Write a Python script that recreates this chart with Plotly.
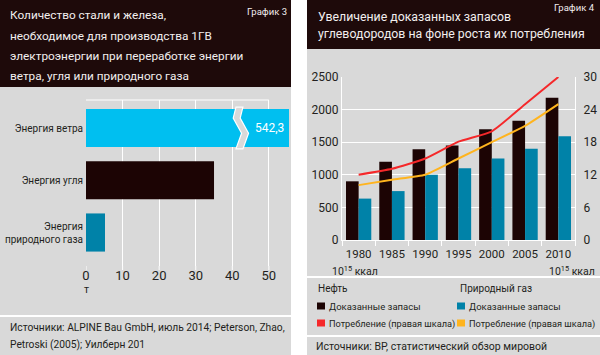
import plotly.graph_objects as go

# ---------------- data ----------------
# Chart 3: steel and iron needed per 1 GW (t)
energy_sources = ["Энергия ветра", "Энергия угля", "Энергия природного газа"]
energy_labels = ["Энергия ветра", "Энергия угля", "Энергия<br>природного газа"]
steel_tonnes = [542.3, 35.0, 5.2]
x_ticks_left = [0, 10, 20, 30, 40, 50]

# Chart 4: reserves and consumption
years = ["1980", "1985", "1990", "1995", "2000", "2005", "2010"]
oil_reserves = [900, 1200, 1390, 1450, 1700, 1830, 2180]
gas_reserves = [635, 750, 1000, 1100, 1250, 1400, 1590]
oil_consumption = [12.0, 13.1, 15.0, 18.1, 20.0, 25.0, 30.0]
gas_consumption = [10.1, 11.1, 12.0, 15.0, 18.0, 21.0, 25.0]

W, H = 600, 355
FONT = "Roboto, Liberation Sans, sans-serif"
DARK = "#1e0a0a"
GRAY = "#d9d9d9"
TXT = "#231f20"

C_WIND = "#00bff0"
C_COAL = "#1c0404"
C_GAS = "#0082a8"
C_RED = "#f5282a"
C_YEL = "#ffb41e"


def px(x):
    return x / W


def py(y):
    return 1 - y / H


fig = go.Figure()

# ---------- left chart ----------
fig.add_trace(go.Bar(
    y=energy_sources, x=steel_tonnes, orientation="h",
    marker=dict(color=[C_WIND, C_COAL, C_GAS], line=dict(width=0)),
    width=0.73, xaxis="x", yaxis="y", showlegend=False, hoverinfo="skip",
))

# ---------- right chart ----------
fig.add_trace(go.Bar(x=years, y=oil_reserves, marker=dict(color=C_COAL, line=dict(width=0)),
                     xaxis="x2", yaxis="y2", showlegend=False, hoverinfo="skip"))
fig.add_trace(go.Bar(x=years, y=gas_reserves, marker=dict(color=C_GAS, line=dict(width=0)),
                     xaxis="x2", yaxis="y2", showlegend=False, hoverinfo="skip"))
fig.add_trace(go.Scatter(x=years, y=oil_consumption, mode="lines",
                         line=dict(color=C_RED, width=2, shape="spline", smoothing=0.5),
                         xaxis="x2", yaxis="y3", showlegend=False, hoverinfo="skip"))
fig.add_trace(go.Scatter(x=years, y=gas_consumption, mode="lines",
                         line=dict(color=C_YEL, width=2, shape="spline", smoothing=0.5),
                         xaxis="x2", yaxis="y3", showlegend=False, hoverinfo="skip"))

shapes = []
# panels backgrounds
shapes.append(dict(type="rect", xref="paper", yref="paper", x0=px(0), x1=px(291), y0=py(355), y1=py(0),
                   fillcolor=GRAY, line=dict(width=0), layer="below"))
shapes.append(dict(type="rect", xref="paper", yref="paper", x0=px(0), x1=px(291), y0=py(87), y1=py(0),
                   fillcolor=DARK, line=dict(width=0), layer="below"))
shapes.append(dict(type="rect", xref="paper", yref="paper", x0=px(307), x1=px(600), y0=py(355), y1=py(0),
                   fillcolor=GRAY, line=dict(width=0), layer="below"))
shapes.append(dict(type="rect", xref="paper", yref="paper", x0=px(307), x1=px(600), y0=py(49), y1=py(0),
                   fillcolor=DARK, line=dict(width=0), layer="below"))
# separators
for (x0, x1, y) in [(0, 291, 316), (307, 600, 277), (307, 600, 336)]:
    shapes.append(dict(type="line", xref="paper", yref="paper", x0=px(x0), x1=px(x1), y0=py(y), y1=py(y),
                       line=dict(color="white", width=2), layer="below"))
# top border of left plot
shapes.append(dict(type="line", xref="x", yref="paper", x0=0, x1=50, y0=py(100), y1=py(100),
                   line=dict(color="white", width=1), layer="below"))
# short white tick marks under the left plot's gridlines
for t in x_ticks_left:
    shapes.append(dict(type="line", xref="x", yref="paper", x0=t, x1=t, y0=py(266), y1=py(270),
                       line=dict(color="white", width=1), layer="below"))
# axis break on wind bar
L = [(41.0, -0.40), (40.25, -0.19), (42.54, 0.10), (41.0, 0.40)]
R = [(u + 1.9, v) for (u, v) in L]
pts = L + R[::-1]
path = "M " + " L ".join(f"{u},{v}" for (u, v) in pts) + " Z"
shapes.append(dict(type="path", xref="x", yref="y", path=path, fillcolor=GRAY,
                   line=dict(color="white", width=1.2), layer="above"))

# legend squares
for (x, y, c) in [(317, 306, C_COAL), (317, 323, C_RED), (457, 306, C_GAS), (457, 323, C_YEL)]:
    shapes.append(dict(type="rect", xref="paper", yref="paper", x0=px(x), x1=px(x + 8),
                       y0=py(y + 3.5), y1=py(y - 3.5), fillcolor=c, line=dict(width=0)))

ann = []


def text(x, y, s, size=10.5, color=TXT, xanchor="left", yanchor="middle"):
    ann.append(dict(xref="paper", yref="paper", x=px(x), y=py(y), text=s, showarrow=False,
                    xanchor=xanchor, yanchor=yanchor, align=xanchor if xanchor != "center" else "center",
                    font=dict(family=FONT, size=size, color=color)))


LIGHT = "#f2eeee"
# titles
for y, s in zip([15.5, 36, 56, 76], ["Количество стали и железа,",
                                     "необходимое для производства 1ГВ",
                                     "электроэнергии при переработке энергии",
                                     "ветра, угля или природного газа"]):
    text(8, y, s, size=11.8, color=LIGHT)
text(289, 12, "График 3", size=9.5, color=LIGHT, xanchor="right")
for y, s in zip([16.5, 34], ["Увеличение доказанных запасов",
                             "углеводородов на фоне роста их потребления"]):
    text(316, y, s, size=12.3, color=LIGHT)
text(597, 8, "График 4", size=9.5, color=LIGHT, xanchor="right")

# left extras
text(86, 289, "т", size=10.5, xanchor="center")
ann.append(dict(xref="x", yref="y", x=55.5, y=energy_sources[0],
                text=f"{steel_tonnes[0]:.1f}".replace(".", ","), showarrow=False,
                xanchor="right", xshift=-3, font=dict(family=FONT, size=12, color="white")))
text(8, 327, "Источники: ALPINE Bau GmbH, июль 2014; Peterson, Zhao,", size=10.25)
text(8, 344, "Petroski (2005); Уилберн 201", size=10.25)

# right extras
text(330, 271, "10<sup>15</sup> ккал", size=10.5)
text(597, 271, "10<sup>15</sup> ккал", size=10.5, xanchor="right")
text(316, 288, "Нефть", size=10)
text(458, 288, "Природный газ", size=10)
text(327, 306, "Доказанные запасы", size=9.5)
text(467, 306, "Доказанные запасы", size=9.5)
text(327, 323.5, "Потребление (правая шкала)", size=9.2)
text(467, 323.5, "Потребление (правая шкала)", size=9.2)
text(314, 346, "Источники: BP, статистический обзор мировой", size=10.5)

tickfont = dict(family=FONT, size=12, color=TXT)

fig.update_layout(
    template="none",
    width=W, height=H, margin=dict(l=0, r=0, t=0, b=0),
    paper_bgcolor="white", plot_bgcolor="rgba(0,0,0,0)",
    barmode="group", bargap=0.24, bargroupgap=0,
    font=dict(family=FONT, color=TXT),
    shapes=shapes, annotations=ann,
    xaxis=dict(domain=[px(86), px(289)], anchor="y", range=[0, 55.5], tickvals=x_ticks_left,
               showgrid=True, gridcolor="white", gridwidth=1, zeroline=False, showline=False,
               ticks="", tickfont=dict(family=FONT, size=13, color=TXT), automargin=False),
    yaxis=dict(domain=[py(266), py(100)], anchor="x", type="category",
               categoryorder="array", categoryarray=energy_sources,
               tickvals=energy_sources, ticktext=energy_labels,
               range=[2.641, -0.536], showgrid=False, zeroline=False, showline=False, ticks="",
               ticklabelstandoff=2,
               tickfont=dict(family=FONT, size=10, color=TXT), automargin=False),
    xaxis2=dict(domain=[px(342), px(575)], anchor="y2", type="category", tickson="boundaries",
                ticks="outside", ticklen=5, tickcolor="white", showline=True, linecolor="white",
                showgrid=False, tickfont=dict(family=FONT, size=11.5, color=TXT), tickangle=0,
                ticklabelstandoff=3, automargin=False),
    yaxis2=dict(domain=[py(240), py(77)], anchor="x2", range=[0, 2500], dtick=500,
                showgrid=True, gridcolor="white", zeroline=False, showline=True, linecolor="white",
                ticks="", tickfont=tickfont, automargin=False),
    yaxis3=dict(domain=[py(240), py(77)], anchor="x2", overlaying="y2", side="right",
                range=[0, 30], dtick=6, showgrid=False, zeroline=False, showline=True,
                linecolor="white", ticks="outside", ticklen=5, tickcolor="rgba(0,0,0,0)",
                tickfont=tickfont, automargin=False),
)

fig.write_html("out.html", config={"displayModeBar": False},
               post_script="document.body.style.margin='0px';document.body.style.padding='0px';")
